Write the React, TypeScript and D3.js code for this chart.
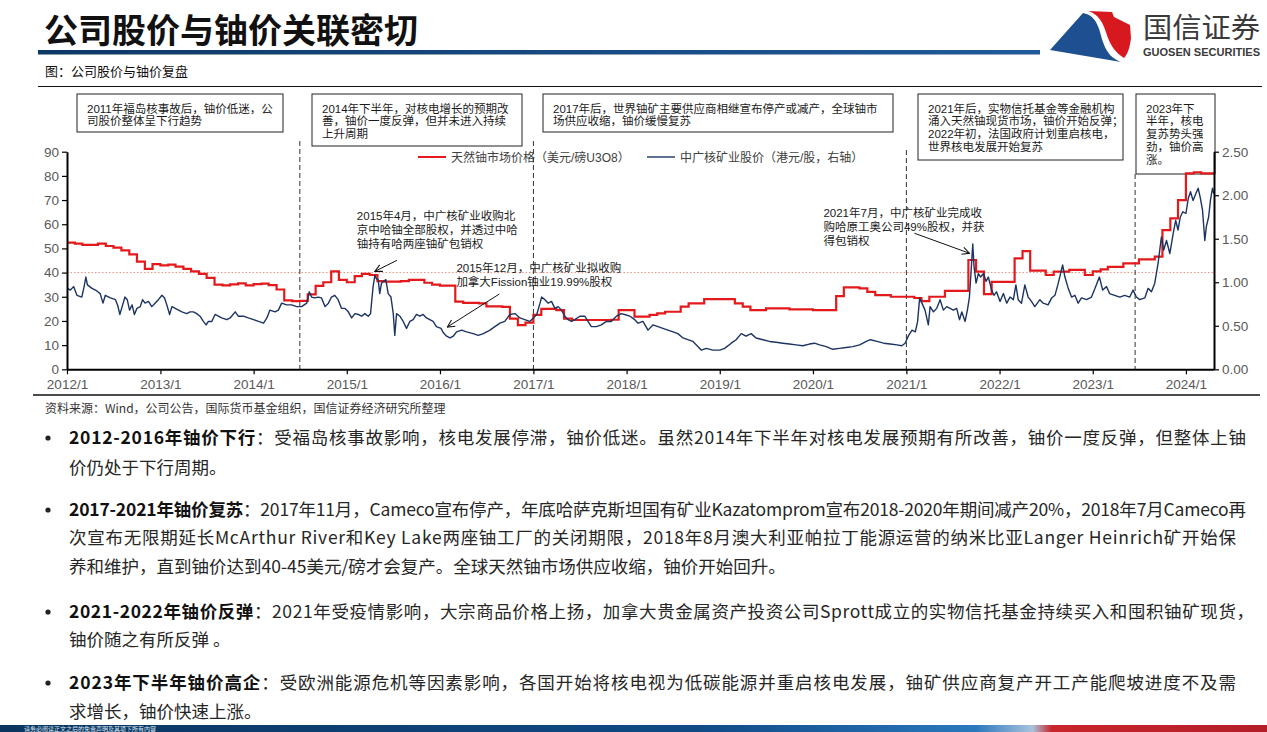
import React, { useEffect, useRef } from 'react';
import * as d3 from 'd3';

// 天然铀市场价格（美元/磅U3O8），月度，左轴
const uraniumPrice: [string, number][] = [
  ['2012-01', 52.4], ['2012-02', 52], ['2012-03', 51.5], ['2012-04', 51.5], ['2012-05', 52], ['2012-06', 51],
  ['2012-07', 50.3], ['2012-08', 49.2], ['2012-09', 47.5], ['2012-10', 44.5], ['2012-11', 41.5], ['2012-12', 43.5],
  ['2013-01', 43], ['2013-02', 43.3], ['2013-03', 42.5], ['2013-04', 41.5], ['2013-05', 40.5], ['2013-06', 39.5],
  ['2013-07', 37.8], ['2013-08', 35], ['2013-09', 34.7], ['2013-10', 35.1], ['2013-11', 35.5], ['2013-12', 34.7],
  ['2014-01', 35.2], ['2014-02', 35.4], ['2014-03', 34.8], ['2014-04', 33], ['2014-05', 28.5], ['2014-06', 28.2],
  ['2014-07', 28.3], ['2014-08', 31], ['2014-09', 34.5], ['2014-10', 36], ['2014-11', 40.5], ['2014-12', 37],
  ['2015-01', 36], ['2015-02', 38.5], ['2015-03', 39.5], ['2015-04', 39], ['2015-05', 36.5], ['2015-06', 36.3],
  ['2015-07', 36.3], ['2015-08', 36.5], ['2015-09', 37], ['2015-10', 37], ['2015-11', 35.8], ['2015-12', 35],
  ['2016-01', 34.6], ['2016-02', 34.6], ['2016-03', 28], ['2016-04', 27.5], ['2016-05', 27.5], ['2016-06', 27.3],
  ['2016-07', 26], ['2016-08', 26], ['2016-09', 25.8], ['2016-10', 21], ['2016-11', 18.3], ['2016-12', 19.3],
  ['2017-01', 22.5], ['2017-02', 25], ['2017-03', 25], ['2017-04', 24.5], ['2017-05', 21], ['2017-06', 20.4],
  ['2017-07', 20.4], ['2017-08', 20.4], ['2017-09', 20.4], ['2017-10', 20.4], ['2017-11', 20.5], ['2017-12', 24.5],
  ['2018-01', 24.5], ['2018-02', 21.8], ['2018-03', 21.8], ['2018-04', 22.5], ['2018-05', 23.1], ['2018-06', 23.8],
  ['2018-07', 23.8], ['2018-08', 25.9], ['2018-09', 27.3], ['2018-10', 27.3], ['2018-11', 29], ['2018-12', 29],
  ['2019-01', 29], ['2019-02', 29], ['2019-03', 27.3], ['2019-04', 25.9], ['2019-05', 24.5], ['2019-06', 24.5],
  ['2019-07', 25.2], ['2019-08', 25.2], ['2019-09', 25.2], ['2019-10', 24.8], ['2019-11', 24.8], ['2019-12', 24.8],
  ['2020-01', 24.5], ['2020-02', 24.5], ['2020-03', 24.5], ['2020-04', 30.3], ['2020-05', 33.9], ['2020-06', 33.9],
  ['2020-07', 33.5], ['2020-08', 32], ['2020-09', 30.7], ['2020-10', 30.7], ['2020-11', 30], ['2020-12', 30],
  ['2021-01', 30], ['2021-02', 29.5], ['2021-03', 28.2], ['2021-04', 30], ['2021-05', 30], ['2021-06', 32.4],
  ['2021-07', 32.4], ['2021-08', 32.4], ['2021-09', 45.2], ['2021-10', 40.4], ['2021-11', 31.1], ['2021-12', 36.2],
  ['2022-01', 36.2], ['2022-02', 36.2], ['2022-03', 45.9], ['2022-04', 48.9], ['2022-05', 40.8], ['2022-06', 40.8],
  ['2022-07', 39], ['2022-08', 40.4], ['2022-09', 40.4], ['2022-10', 41.1], ['2022-11', 41.1], ['2022-12', 39],
  ['2023-01', 40.5], ['2023-02', 41.3], ['2023-03', 42.4], ['2023-04', 42.4], ['2023-05', 43.8], ['2023-06', 43.8],
  ['2023-07', 45.5], ['2023-08', 45.5], ['2023-09', 46.6], ['2023-10', 57.6], ['2023-11', 62.4], ['2023-12', 70],
  ['2024-01', 81], ['2024-02', 81.5], ['2024-03', 81], ['2024-04', 81],
];

// 中广核矿业股价（港元/股），右轴
const cgnPrice: [string, number][] = [
  ['2012-01-03', 0.93], ['2012-01-14', 0.91], ['2012-01-27', 0.95], ['2012-02-09', 0.85], ['2012-02-28', 0.83],
  ['2012-03-08', 0.95], ['2012-03-15', 1.06], ['2012-03-21', 0.97], ['2012-04-08', 0.93], ['2012-04-27', 0.9],
  ['2012-05-10', 0.87], ['2012-05-21', 0.76], ['2012-05-30', 0.85], ['2012-06-19', 0.82], ['2012-07-09', 0.8],
  ['2012-07-18', 0.73], ['2012-07-26', 0.63], ['2012-08-04', 0.72], ['2012-08-15', 0.83], ['2012-08-24', 0.8],
  ['2012-09-02', 0.68], ['2012-09-12', 0.74], ['2012-09-21', 0.63], ['2012-10-01', 0.7], ['2012-10-14', 0.72],
  ['2012-10-23', 0.8], ['2012-11-02', 0.76], ['2012-11-15', 0.78], ['2012-11-28', 0.72], ['2012-12-11', 0.76],
  ['2012-12-24', 0.8], ['2013-01-07', 0.85], ['2013-01-17', 0.82], ['2013-01-26', 0.74], ['2013-02-06', 0.63],
  ['2013-02-15', 0.72], ['2013-02-28', 0.7], ['2013-03-13', 0.68], ['2013-03-26', 0.66], ['2013-04-14', 0.64],
  ['2013-04-27', 0.66], ['2013-05-10', 0.66], ['2013-05-23', 0.64], ['2013-06-05', 0.61], ['2013-06-18', 0.55],
  ['2013-06-29', 0.51], ['2013-07-08', 0.55], ['2013-07-21', 0.55], ['2013-08-03', 0.63], ['2013-08-16', 0.61],
  ['2013-08-29', 0.59], ['2013-09-18', 0.57], ['2013-10-01', 0.59], ['2013-10-21', 0.66], ['2013-11-02', 0.61],
  ['2013-11-22', 0.61], ['2013-12-11', 0.59], ['2014-01-01', 0.57], ['2014-01-20', 0.55], ['2014-02-09', 0.53],
  ['2014-02-22', 0.59], ['2014-03-06', 0.68], ['2014-03-26', 0.66], ['2014-04-08', 0.68], ['2014-04-21', 0.76],
  ['2014-05-10', 0.74], ['2014-05-30', 0.74], ['2014-06-19', 0.72], ['2014-07-08', 0.72], ['2014-07-28', 0.76],
  ['2014-08-07', 0.89], ['2014-08-16', 0.83], ['2014-08-29', 0.82], ['2014-09-11', 0.83], ['2014-09-24', 0.82],
  ['2014-10-08', 0.72], ['2014-10-21', 0.76], ['2014-11-02', 0.83], ['2014-11-15', 0.85], ['2014-11-28', 0.8],
  ['2014-12-11', 0.7], ['2014-12-24', 0.7], ['2015-01-07', 0.66], ['2015-01-20', 0.59], ['2015-02-02', 0.64],
  ['2015-02-15', 0.63], ['2015-02-28', 0.61], ['2015-03-13', 0.64], ['2015-03-26', 0.61], ['2015-04-04', 0.64],
  ['2015-04-14', 0.95], ['2015-04-21', 1.08], ['2015-04-27', 1.04], ['2015-05-04', 1.03], ['2015-05-10', 0.87],
  ['2015-05-17', 0.99], ['2015-05-26', 1.01], ['2015-06-03', 1.03], ['2015-06-12', 0.87], ['2015-06-23', 0.83],
  ['2015-07-02', 0.64], ['2015-07-08', 0.39], ['2015-07-15', 0.64], ['2015-07-28', 0.61], ['2015-08-10', 0.55],
  ['2015-08-23', 0.47], ['2015-09-05', 0.55], ['2015-09-18', 0.57], ['2015-10-01', 0.63], ['2015-10-14', 0.61],
  ['2015-10-27', 0.63], ['2015-11-09', 0.59], ['2015-11-22', 0.57], ['2015-12-05', 0.55], ['2015-12-18', 0.49],
  ['2016-01-05', 0.47], ['2016-01-14', 0.42], ['2016-01-27', 0.38], ['2016-02-09', 0.36], ['2016-02-22', 0.38],
  ['2016-03-06', 0.43], ['2016-03-26', 0.45], ['2016-04-14', 0.43], ['2016-05-10', 0.41], ['2016-05-30', 0.39],
  ['2016-06-19', 0.41], ['2016-07-15', 0.45], ['2016-08-03', 0.49], ['2016-08-23', 0.53], ['2016-09-11', 0.55],
  ['2016-10-01', 0.63], ['2016-10-21', 0.64], ['2016-11-09', 0.59], ['2016-11-28', 0.57], ['2016-12-18', 0.55],
  ['2017-01-01', 0.59], ['2017-01-14', 0.63], ['2017-01-27', 0.76], ['2017-02-02', 0.83], ['2017-02-15', 0.8],
  ['2017-02-28', 0.76], ['2017-03-13', 0.78], ['2017-03-26', 0.7], ['2017-04-08', 0.72], ['2017-04-21', 0.68],
  ['2017-05-04', 0.61], ['2017-05-17', 0.57], ['2017-05-30', 0.55], ['2017-06-12', 0.57], ['2017-07-02', 0.61],
  ['2017-07-21', 0.61], ['2017-08-03', 0.55], ['2017-08-16', 0.49], ['2017-09-05', 0.49], ['2017-09-24', 0.51],
  ['2017-10-14', 0.55], ['2017-11-02', 0.55], ['2017-11-22', 0.61], ['2017-12-11', 0.64], ['2017-12-24', 0.63],
  ['2018-01-14', 0.61], ['2018-02-02', 0.57], ['2018-02-15', 0.53], ['2018-03-06', 0.55], ['2018-03-26', 0.45],
  ['2018-04-14', 0.51], ['2018-05-04', 0.49], ['2018-05-23', 0.47], ['2018-06-12', 0.45], ['2018-07-02', 0.43],
  ['2018-07-21', 0.41], ['2018-08-10', 0.36], ['2018-08-29', 0.34], ['2018-09-18', 0.32], ['2018-10-08', 0.26],
  ['2018-10-21', 0.22], ['2018-11-09', 0.24], ['2018-12-05', 0.22], ['2019-01-01', 0.22], ['2019-01-20', 0.24],
  ['2019-02-15', 0.3], ['2019-03-06', 0.34], ['2019-03-26', 0.41], ['2019-04-14', 0.38], ['2019-05-04', 0.41],
  ['2019-05-23', 0.36], ['2019-06-19', 0.34], ['2019-07-15', 0.32], ['2019-08-10', 0.31], ['2019-09-05', 0.3],
  ['2019-10-01', 0.29], ['2019-10-27', 0.28], ['2019-11-22', 0.27], ['2019-12-18', 0.29], ['2020-01-07', 0.3],
  ['2020-01-27', 0.28], ['2020-02-22', 0.26], ['2020-03-19', 0.23], ['2020-04-14', 0.24], ['2020-05-10', 0.25],
  ['2020-06-05', 0.26], ['2020-07-02', 0.28], ['2020-07-28', 0.32], ['2020-08-13', 0.34], ['2020-09-08', 0.32],
  ['2020-10-04', 0.3], ['2020-10-30', 0.29], ['2020-11-25', 0.28], ['2020-12-14', 0.27], ['2020-12-27', 0.3],
  ['2021-01-10', 0.39], ['2021-01-23', 0.45], ['2021-02-05', 0.43], ['2021-02-14', 0.55], ['2021-02-22', 0.82],
  ['2021-03-03', 0.76], ['2021-03-15', 0.68], ['2021-03-28', 0.51], ['2021-04-04', 0.72], ['2021-04-17', 0.66],
  ['2021-04-30', 0.7], ['2021-05-13', 0.8], ['2021-05-26', 0.68], ['2021-06-08', 0.72], ['2021-06-21', 0.7],
  ['2021-07-04', 0.68], ['2021-07-17', 0.7], ['2021-07-28', 0.57], ['2021-08-06', 0.66], ['2021-08-19', 0.55],
  ['2021-08-28', 0.68], ['2021-09-05', 0.83], ['2021-09-11', 1.1], ['2021-09-18', 1.44], ['2021-09-23', 1.18],
  ['2021-10-01', 0.99], ['2021-10-10', 1.1], ['2021-10-19', 1.06], ['2021-10-30', 1.1], ['2021-11-09', 1.01],
  ['2021-11-18', 1.06], ['2021-12-01', 0.91], ['2021-12-10', 0.85], ['2021-12-20', 0.89], ['2022-01-03', 0.78],
  ['2022-01-16', 0.87], ['2022-01-29', 0.76], ['2022-02-11', 0.83], ['2022-02-24', 0.8], ['2022-03-06', 0.97],
  ['2022-03-15', 0.8], ['2022-03-28', 0.76], ['2022-04-10', 0.97], ['2022-04-23', 0.83], ['2022-05-06', 0.78],
  ['2022-05-19', 0.72], ['2022-06-08', 0.8], ['2022-06-21', 0.76], ['2022-07-10', 0.74], ['2022-07-24', 0.82],
  ['2022-08-06', 0.85], ['2022-08-19', 0.99], ['2022-08-28', 1.1], ['2022-09-05', 1.2], ['2022-09-14', 1.06],
  ['2022-09-27', 0.93], ['2022-10-10', 0.83], ['2022-10-23', 0.85], ['2022-11-05', 0.76], ['2022-11-18', 0.82],
  ['2022-12-08', 0.8], ['2022-12-27', 0.83], ['2023-01-10', 0.93], ['2023-01-27', 1.06], ['2023-02-09', 0.91],
  ['2023-02-24', 0.95], ['2023-03-08', 0.87], ['2023-03-28', 0.85], ['2023-04-17', 0.83], ['2023-05-06', 0.85],
  ['2023-05-26', 0.83], ['2023-06-08', 0.91], ['2023-06-21', 0.83], ['2023-07-04', 0.8], ['2023-07-24', 0.82],
  ['2023-08-06', 0.93], ['2023-08-19', 0.89], ['2023-09-01', 0.99], ['2023-09-14', 1.22], ['2023-09-27', 1.52],
  ['2023-10-06', 1.37], ['2023-10-17', 1.48], ['2023-10-30', 1.33], ['2023-11-12', 1.56], ['2023-11-22', 1.71],
  ['2023-12-01', 1.6], ['2023-12-10', 1.75], ['2023-12-20', 1.81], ['2024-01-01', 1.79], ['2024-01-10', 1.96],
  ['2024-01-19', 2.04], ['2024-01-29', 1.94], ['2024-02-09', 2.02], ['2024-02-18', 2.08], ['2024-02-27', 1.96],
  ['2024-03-06', 1.83], ['2024-03-15', 1.48], ['2024-03-21', 1.64], ['2024-03-30', 1.75], ['2024-04-06', 1.94],
  ['2024-04-14', 2.08], ['2024-04-19', 2.02],
];

const xTickLabels = ['2012/1', '2013/1', '2014/1', '2015/1', '2016/1', '2017/1', '2018/1', '2019/1', '2020/1', '2021/1', '2022/1', '2023/1', '2024/1'];
const leftTicks = [0, 10, 20, 30, 40, 50, 60, 70, 80, 90];
const rightTicks = [0, 0.5, 1, 1.5, 2, 2.5];
const phaseDates = ['2014-07-01', '2017-01-01', '2021-01-01', '2023-06-16'];
const refLevel = 40;
const seriesNames = ['天然铀市场价格（美元/磅U3O8）', '中广核矿业股价（港元/股，右轴）'];

const phaseNotes = [
  ['2011年福岛核事故后，铀价低迷，公', '司股价整体呈下行趋势'],
  ['2014年下半年，对核电增长的预期改', '善，铀价一度反弹，但并未进入持续', '上升周期'],
  ['2017年后，世界铀矿主要供应商相继宣布停产或减产，全球铀市', '场供应收缩，铀价缓慢复苏'],
  ['2021年后，实物信托基金等金融机构', '涌入天然铀现货市场，铀价开始反弹；', '2022年初，法国政府计划重启核电，', '世界核电发展开始复苏'],
  ['2023年下', '半年，核电', '复苏势头强', '劲，铀价高', '涨。'],
];

const events: { date: string; value: number; lines: string[] }[] = [
  { date: '2015-04-21', value: 40.5, lines: ['2015年4月，中广核矿业收购北', '京中哈铀全部股权，并透过中哈', '铀持有哈两座铀矿包销权'] },
  { date: '2016-01-30', value: 17.5, lines: ['2015年12月，中广核矿业拟收购', '加拿大Fission铀业19.99%股权'] },
  { date: '2021-09-05', value: 48, lines: ['2021年7月，中广核矿业完成收', '购哈原工奥公司49%股权，并获', '得包销权'] },
];

const bulletHeads = ['2012-2016年铀价下行', '2017-2021年铀价复苏', '2021-2022年铀价反弹', '2023年下半年铀价高企'];
const bulletLines = [
  ['：受福岛核事故影响，核电发展停滞，铀价低迷。虽然2014年下半年对核电发展预期有所改善，铀价一度反弹，但整体上铀', '价仍处于下行周期。'],
  ['：2017年11月，Cameco宣布停产，年底哈萨克斯坦国有矿业Kazatomprom宣布2018-2020年期间减产20%，2018年7月Cameco再',
    '次宣布无限期延长McArthur River和Key Lake两座铀工厂的关闭期限，2018年8月澳大利亚帕拉丁能源运营的纳米比亚Langer Heinrich矿开始保',
    '养和维护，直到铀价达到40-45美元/磅才会复产。全球天然铀市场供应收缩，铀价开始回升。'],
  ['：2021年受疫情影响，大宗商品价格上扬，加拿大贵金属资产投资公司Sprott成立的实物信托基金持续买入和囤积铀矿现货，', '铀价随之有所反弹 。'],
  ['：受欧洲能源危机等因素影响，各国开始将核电视为低碳能源并重启核电发展，铀矿供应商复产开工产能爬坡进度不及需', '求增长，铀价快速上涨。'],
];

const CJK = "'Noto Sans CJK SC', sans-serif";
const CHART_FONT = "'Liberation Sans', 'Noto Sans CJK SC', sans-serif";
const RED = '#e3191b';
const NAVY = '#1c3461';

// layout for the note boxes and bullets
const boxRects = [
  { x: 77, y: 94, w: 206, h: 38 },
  { x: 312, y: 94, w: 210, h: 52 },
  { x: 543, y: 94, w: 350, h: 38 },
  { x: 918, y: 94, w: 205, h: 66 },
  { x: 1136, y: 94, w: 79, h: 80 },
];
const bulletBaselines = [[444, 474], [516, 544, 573], [618, 646], [689, 718]];
const bulletWidths = [[1177, 0], [1177, 1167, 0], [1185, 0], [1167, 0]];

const Chart = () => {
  const gRef = useRef<SVGGElement | null>(null);

  useEffect(() => {
    const g = d3.select(gRef.current);
    g.selectAll('*').remove();

    const left = 67, right = 1214, top = 151.7, bottom = 369.3;
    const parseMonth = d3.timeParse('%Y-%m');
    const parseDay = d3.timeParse('%Y-%m-%d');
    const endDate = parseDay('2024-04-20') as Date;

    const x = d3.scaleTime().domain([new Date(2012, 0, 1), endDate]).range([left, right]);
    const yL = d3.scaleLinear().domain([0, 90]).range([bottom, top]);
    const yR = d3.scaleLinear().domain([0, 2.5]).range([bottom, top]);

    // reference dotted level
    g.append('line')
      .attr('x1', left).attr('x2', right)
      .attr('y1', yL(refLevel)).attr('y2', yL(refLevel))
      .attr('stroke', '#e8907e').attr('stroke-width', 1).attr('stroke-dasharray', '1.5,2');

    // phase separators
    const phaseTops = [141, 141, 150, 174];
    phaseDates.forEach((d, i) => {
      const px = x(parseDay(d) as Date);
      g.append('line')
        .attr('x1', px).attr('x2', px)
        .attr('y1', phaseTops[i]).attr('y2', bottom)
        .attr('stroke', '#333').attr('stroke-width', 1).attr('stroke-dasharray', '5,3');
    });

    // uranium step line
    const uData = uraniumPrice.map(([m, v]) => ({ date: parseMonth(m) as Date, value: v }));
    uData.push({ date: endDate, value: uData[uData.length - 1].value });
    const uLine = d3.line<{ date: Date; value: number }>()
      .x((d) => x(d.date))
      .y((d) => yL(d.value))
      .curve(d3.curveStepAfter);
    g.append('path')
      .datum(uData)
      .attr('d', uLine)
      .attr('fill', 'none')
      .attr('stroke', RED)
      .attr('stroke-width', 2.2);

    // share price
    const sData = cgnPrice.map(([d, v]) => ({ date: parseDay(d) as Date, value: v }));
    const sLine = d3.line<{ date: Date; value: number }>()
      .x((d) => x(d.date))
      .y((d) => yR(d.value));
    g.append('path')
      .datum(sData)
      .attr('d', sLine)
      .attr('fill', 'none')
      .attr('stroke', NAVY)
      .attr('stroke-width', 1.4)
      .attr('stroke-linejoin', 'round');

    // axes
    const styleAxis = (sel: d3.Selection<SVGGElement, unknown, null, undefined>) => {
      sel.select('.domain').attr('stroke', '#000').attr('stroke-width', 2);
      sel.selectAll('.tick line').attr('stroke', '#000').attr('stroke-width', 1.2);
      sel.selectAll('.tick text')
        .attr('fill', '#595959')
        .style('font-family', CHART_FONT)
        .style('font-size', '13.5px');
    };

    const xTicks = xTickLabels.map((s) => parseMonth(s.replace('/', '-')) as Date);
    const xAxis = g.append('g')
      .attr('transform', `translate(0,${bottom})`)
      .call(
        d3.axisBottom(x)
          .tickValues(xTicks)
          .tickFormat((d, i) => xTickLabels[i])
          .tickSize(5)
          .tickSizeOuter(0)
          .tickPadding(5)
      );
    styleAxis(xAxis);

    const lAxis = g.append('g')
      .attr('transform', `translate(${left},0)`)
      .call(d3.axisLeft(yL).tickValues(leftTicks).tickSize(5).tickSizeOuter(0).tickPadding(3));
    styleAxis(lAxis);

    const rAxis = g.append('g')
      .attr('transform', `translate(${right},0)`)
      .call(
        d3.axisRight(yR)
          .tickValues(rightTicks)
          .tickFormat(d3.format('.2f'))
          .tickSize(5)
          .tickSizeOuter(0)
          .tickPadding(3)
      );
    styleAxis(rAxis);

    // legend
    const legendX = [418, 647];
    const legendColors = [RED, NAVY];
    seriesNames.forEach((name, i) => {
      g.append('line')
        .attr('x1', legendX[i]).attr('x2', legendX[i] + 28)
        .attr('y1', 157).attr('y2', 157)
        .attr('stroke', legendColors[i]).attr('stroke-width', i === 0 ? 2 : 1.4);
      g.append('text')
        .attr('x', legendX[i] + 33).attr('y', 161.5)
        .attr('fill', '#404040')
        .style('font-family', CHART_FONT)
        .style('font-size', '12px')
        .text(name);
    });

    // event annotations with arrows
    const textOffsets = [
      { dx: -18, dy: -51, ax: 22, ay: -11 },
      { dx: 9, dy: -55, ax: 52, ay: -33 },
      { dx: -146, dy: -36, ax: -55, ay: -20 },
    ];
    events.forEach((ev, i) => {
      const tx = x(parseDay(ev.date) as Date);
      const ty = yL(ev.value);
      const o = textOffsets[i];
      const t = g.append('text')
        .attr('fill', '#1a1a1a')
        .style('font-family', CHART_FONT)
        .style('font-size', '11.5px');
      ev.lines.forEach((ln, j) => {
        t.append('tspan')
          .attr('x', tx + o.dx)
          .attr('y', ty + o.dy + j * 14)
          .text(ln);
      });
      g.append('line')
        .attr('x1', tx + o.ax).attr('y1', ty + o.ay)
        .attr('x2', tx).attr('y2', ty)
        .attr('stroke', '#111').attr('stroke-width', 1)
        .attr('marker-end', 'url(#openArrow)');
    });
  }, []);

  return <g ref={gRef} />;
};

const App = () => {
  return (
    <svg
      width={1267}
      height={732}
      viewBox="0 0 1267 732"
      style={{ position: 'absolute', left: 0, top: 0, background: '#fff' }}
    >
      <defs>
        <linearGradient id="titleRule" x1="0" x2="1" y1="0" y2="0">
          <stop offset="0" stopColor="#0e3866" />
          <stop offset="1" stopColor="#1f5a99" />
        </linearGradient>
        <linearGradient id="footBand" gradientUnits="userSpaceOnUse" x1="0" x2="1267" y1="0" y2="0">
          <stop offset="0" stopColor="#0a355f" />
          <stop offset="0.55" stopColor="#0f4a85" />
          <stop offset="0.77" stopColor="#2a78bd" />
          <stop offset="0.815" stopColor="#a9c3dc" />
          <stop offset="0.83" stopColor="#c9252c" />
          <stop offset="1" stopColor="#b31e28" />
        </linearGradient>
        <marker id="openArrow" viewBox="0 0 10 10" refX="9" refY="5" markerWidth="9" markerHeight="9" orient="auto" markerUnits="userSpaceOnUse">
          <path d="M1,1 L9,5 L1,9" fill="none" stroke="#111" strokeWidth="1.2" />
        </marker>
      </defs>
      <rect x={0} y={0} width={1267} height={732} fill="#fff" />

      {/* header */}
      <text x={44} y={43} fontFamily={CJK} fontSize={34} fontWeight={700} fill="#111">公司股价与铀价关联密切</text>
      <rect x={38} y={50} width={1002} height={4.5} fill="url(#titleRule)" />
      <g>
        <path d="M1050,50 L1083,13 C1098,16 1099,30 1103,42 C1107,54 1113,59 1121,62 Z" fill="#1d4f91" />
        <path d="M1088,11 L1112,12 L1114,17 L1130,25 L1131,38 C1130,48 1127,55 1124,58 C1116,53 1111,46 1108,38 C1104,26 1101,15 1088,11 Z" fill="#d7191f" />
        <text x={1143} y={38} fontFamily={CJK} fontSize={28} fill="#3a3a3a" textLength={117} lengthAdjust="spacingAndGlyphs">国信证券</text>
        <text x={1143} y={56} fontFamily={CHART_FONT} fontSize={10} fontWeight={700} fill="#3a3a3a" textLength={117} lengthAdjust="spacingAndGlyphs">GUOSEN SECURITIES</text>
      </g>
      <text x={45} y={76} fontFamily={CJK} fontSize={13} fill="#111">图：公司股价与铀价复盘</text>
      <line x1={38} x2={1262} y1={86.5} y2={86.5} stroke="#111" strokeWidth={1} />

      {/* phase note boxes */}
      {phaseNotes.map((lines, i) => {
        const r = boxRects[i];
        return (
          <g key={i}>
            <rect x={r.x} y={r.y} width={r.w} height={r.h} fill="#fff" stroke="#222" strokeWidth={1} />
            {lines.map((ln, j) => (
              <text
                key={j}
                x={r.x + 10}
                y={r.y + 18.5 + j * 12.9}
                fontFamily={CHART_FONT}
                fontSize={11.5}
                fill="#1a1a1a"
              >
                {ln}
              </text>
            ))}
          </g>
        );
      })}

      <Chart />

      {/* source */}
      <line x1={33} x2={1260} y1={395} y2={395} stroke="#111" strokeWidth={1.3} />
      <text x={45} y={413} fontFamily={CJK} fontSize={12} fill="#333">资料来源：Wind，公司公告，国际货币基金组织，国信证券经济研究所整理</text>

      {/* bullets */}
      {bulletHeads.map((head, i) => (
        <g key={i}>
          <circle cx={48} cy={bulletBaselines[i][0] - 6} r={2.6} fill="#222" />
          {bulletLines[i].map((ln, j) => {
            const w = bulletWidths[i][j];
            const extra = w > 0 ? { textLength: w, lengthAdjust: 'spacing' } : {};
            return (
              <text
                key={j}
                x={69}
                y={bulletBaselines[i][j]}
                fontFamily={CJK}
                fontSize={17.5}
                fill="#262626"
                {...extra}
              >
                {j === 0 ? <tspan fontWeight={700} fill="#111">{head}</tspan> : null}
                {ln}
              </text>
            );
          })}
        </g>
      ))}

      {/* footer band */}
      <rect x={0} y={725} width={1267} height={7} fill="url(#footBand)" />
      <text x={24} y={730.8} fontFamily={CJK} fontSize={6} fill="#dfe8f2">请务必阅读正文之后的免责声明及其项下所有内容</text>
    </svg>
  );
};

export default App;
